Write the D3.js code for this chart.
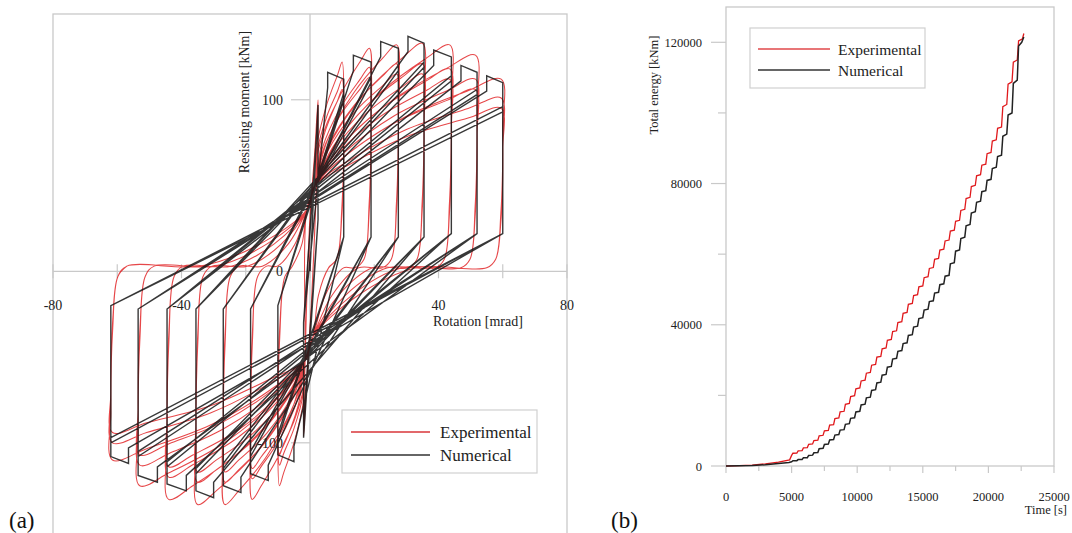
<!DOCTYPE html>
<html>
<head>
<meta charset="utf-8">
<script src="https://cdn.jsdelivr.net/npm/d3@7"></script>
<style>
body { margin: 0; background: #fff; }
svg { display: block; font-family: "Liberation Serif", "Times New Roman", serif; }
</style>
</head>
<body>
<svg id="chart" width="1072" height="533"></svg>
<script>
// ---------- panel (a): moment-rotation loops, one entry per amplitude level ----------
var ampPos = [2.5, 10.5, 19, 27.5, 35.5, 44, 52, 60];
var ampNeg = [-2, -10, -18.5, -27, -35.5, -44.5, -53.5, -62];

var expPeakPos1 = [100, 122, 130, 132, 133, 132, 126, 112];
var expPeakPos2 = [92, 112, 119, 121, 121, 118, 112, 101];
var expPeakNeg1 = [-96, -125, -133, -136, -136, -133, -125, -110];
var expPeakNeg2 = [-90, -113, -121, -123, -123, -120, -113, -100];

var numPeakPos1 = [97, 112, 122, 130, 133, 125, 116, 110];
var numPeakPos2 = [92, 104, 113, 120, 122, 114, 106, 96];
var numPeakNeg1 = [-97, -107, -118, -125, -128, -124, -119, -108];
var numPeakNeg2 = [-90, -98, -108, -115, -118, -114, -108, -100];
var numUnloadPos = [30, 20, 20, 20, 20, 22, 22, 22];
var numUnloadNeg = [-30, -20, -22, -22, -22, -22, -22, -20];

var rotTicks = [-80, -60, -40, -20, 0, 20, 40, 60, 80];
var rotLabels = [-80, -40, 40, 80];
var momLabels = [100, 0, -100];

// ---------- panel (b): cumulative energy [time s, energy kNm] ----------
var expEnergy = [
  [0,0],[1000,80],[2000,250],[3000,600],[4000,1100],[4850,1750],
  [5000,3000],[5100,3612],[5400,3680],[5500,4292],[5800,4360],[5900,5134],
  [6200,5220],[6300,6156],[6600,6260],[6700,7196],[7000,7300],[7100,8560],
  [7400,8700],[7500,9960],[7800,10100],[7900,11576],[8200,11740],[8300,13432],
  [8600,13620],[8700,15312],[9000,15500],[9100,17480],[9400,17700],[9500,19680],
  [9800,19900],[9900,21880],[10200,22100],[10300,24080],[10600,24300],[10700,26280],
  [11000,26500],[11100,28552],[11400,28780],[11500,30832],[11800,31060],[11900,33184],
  [12200,33420],[12300,35616],[12600,35860],[12700,38056],[13000,38300],[13100,40640],
  [13400,40900],[13500,43240],[13800,43500],[13900,45786],[14200,46040],[14300,48272],
  [14600,48520],[14700,50752],[15000,51000],[15100,53340],[15400,53600],[15500,55940],
  [15800,56200],[15900,58540],[16200,58800],[16300,61140],[16600,61400],[16700,63740],
  [17000,64000],[17100,66520],[17400,66800],[17500,69320],[17800,69600],[17900,72390],
  [18200,72700],[18300,75760],[18600,76100],[18700,79160],[19000,79500],[19100,82200],
  [19400,82500],[19500,85200],[19800,85500],[19900,88470],[20200,88800],[20300,92040],
  [20600,92400],[20700,95640],[21000,96000],[21100,101760],[21400,102400],[21500,108160],
  [21800,108800],[21900,114380],[22200,115000],[22300,120400],[22600,121000],[22700,122500]
];
var numEnergy = [
  [0,0],[1000,50],[2000,150],[3000,350],[4000,700],[4800,1000],
  [5000,1200],[5100,1488],[5400,1520],[5500,1808],[5800,1840],[5900,2308],
  [6200,2360],[6300,3008],[6600,3080],[6700,3728],[7000,3800],[7100,4880],
  [7400,5000],[7500,6080],[7800,6200],[7900,7370],[8200,7500],[8300,8760],
  [8600,8900],[8700,10160],[9000,10300],[9100,11812],[9400,11980],[9500,13492],
  [9800,13660],[9900,15316],[10200,15500],[10300,17300],[10600,17500],[10700,19300],
  [11000,19500],[11100,21408],[11400,21620],[11500,23528],[11800,23740],[11900,25720],
  [12200,25940],[12300,27992],[12600,28220],[12700,30272],[13000,30500],[13100,32480],
  [13400,32700],[13500,34680],[13800,34900],[13900,36970],[14200,37200],[14300,39360],
  [14600,39600],[14700,41760],[15000,42000],[15100,44160],[15400,44400],[15500,46560],
  [15800,46800],[15900,48960],[16200,49200],[16300,51360],[16600,51600],[16700,53760],
  [17000,54000],[17100,57240],[17400,57600],[17500,60840],[17800,61200],[17900,64440],
  [18200,64800],[18300,68040],[18600,68400],[18700,71640],[19000,72000],[19100,74700],
  [19400,75000],[19500,77700],[19800,78000],[19900,80880],[20200,81200],[20300,84260],
  [20600,84600],[20700,87660],[21000,88000],[21100,93400],[21400,94000],[21500,99400],
  [21800,100000],[21900,108370],[22200,109300],[22300,118930],[22540,120000],[22700,121500]
];
var energyTicks = [0, 40000, 80000, 120000];
var energyMinor = [20000, 60000, 100000];
var timeTicks = [0, 5000, 10000, 15000, 20000, 25000];
var timeMinor = [2500, 7500, 12500, 17500, 22500];

var legendNames = ["Experimental", "Numerical"];
var redColor = "#e0191c", blackColor = "#151515", gridColor = "#c9c9c9";

var svg = d3.select("#chart");

// ================= panel (a) =================
var xA = d3.scaleLinear().domain([-80, 80]).range([53, 567]);
var yA = d3.scaleLinear().domain([-152, 150]).range([532, 14]);

var gA = svg.append("g");

gA.append("rect")
    .attr("x", xA(-80)).attr("y", yA(150))
    .attr("width", xA(80) - xA(-80)).attr("height", 540)
    .attr("fill", "none").attr("stroke", gridColor).attr("stroke-width", 1.3);

gA.append("line")
    .attr("x1", xA(-80)).attr("x2", xA(80))
    .attr("y1", yA(0)).attr("y2", yA(0))
    .attr("stroke", gridColor).attr("stroke-width", 1.3);
gA.append("line")
    .attr("x1", xA(0)).attr("x2", xA(0))
    .attr("y1", yA(150)).attr("y2", 540)
    .attr("stroke", gridColor).attr("stroke-width", 1.3);

gA.selectAll(".xtick").data(rotTicks).enter().append("line")
    .attr("x1", function(d) { return xA(d); }).attr("x2", function(d) { return xA(d); })
    .attr("y1", yA(0) - 7).attr("y2", yA(0) + 7)
    .attr("stroke", gridColor).attr("stroke-width", 1.2);
gA.selectAll(".ytick").data([100, -100]).enter().append("line")
    .attr("x1", xA(0) - 19).attr("x2", xA(0))
    .attr("y1", function(d) { return yA(d); }).attr("y2", function(d) { return yA(d); })
    .attr("stroke", gridColor).attr("stroke-width", 1.2);

// experimental loop: plateau near zero, pinch near the origin, rounded peak, steep unloading
function expPosHalf(anPrev, ap, pp) {
    var p = [];
    if (anPrev < -6) p.push([anPrev * 0.55, 3], [anPrev * 0.25, 16]);
    p.push([-1, 36], [1.5, 50]);
    if (ap > 8) {
        p.push([ap * 0.2, 40 + 0.4 * (pp - 40)], [ap * 0.5, 40 + 0.7 * (pp - 40)], [ap * 0.82, 0.94 * pp]);
    } else {
        p.push([ap * 0.7, 0.85 * pp]);
    }
    p.push([ap - 0.5, pp], [ap, 0.75 * pp], [ap - 0.6, 0.3 * pp], [ap - 2.2, 7]);
    if (ap > 12) p.push([ap - 5, 2]);
    return p;
}
function expNegHalf(apPrev, an, pn) {
    var p = [];
    if (apPrev > 6) p.push([apPrev * 0.55, 2], [apPrev * 0.25, -14]);
    p.push([1, -38], [-1.5, -52]);
    if (an < -8) {
        p.push([an * 0.2, -42 + 0.4 * (pn + 42)], [an * 0.5, -42 + 0.7 * (pn + 42)], [an * 0.82, 0.94 * pn]);
    } else {
        p.push([an * 0.7, 0.85 * pn]);
    }
    p.push([an + 0.5, pn], [an, 0.75 * pn], [an + 0.6, 0.3 * pn], [an + 2.2, -3]);
    if (an < -12) p.push([an + 5, 3]);
    return p;
}

var expPts = [[0, 0]];
for (var c = 0; c < 3; c++) {
    expPts.push([-0.3, 20], [1.5, 70], [ampPos[0], c ? expPeakPos2[0] : expPeakPos1[0]], [2, 50],
                [0.4, -20], [-1.2, -70], [ampNeg[0], c ? expPeakNeg2[0] : expPeakNeg1[0]], [-1.5, -50]);
}
var lastNeg = ampNeg[0], lastPos = ampPos[0];
for (var i = 1; i < ampPos.length; i++) {
    for (var c = 0; c < 3; c++) {
        var pp = c === 0 ? expPeakPos1[i] : expPeakPos2[i] - (c - 1) * 6;
        var pn = c === 0 ? expPeakNeg1[i] : expPeakNeg2[i] + (c - 1) * 6;
        expPts = expPts.concat(expPosHalf(lastNeg, ampPos[i], pp));
        lastPos = ampPos[i];
        expPts = expPts.concat(expNegHalf(lastPos, ampNeg[i], pn));
        lastNeg = ampNeg[i];
    }
}

// numerical loop: straight branches, vertical unloading, notch when a new amplitude is reached
var numPts = [[0, 0]];
for (var i = 0; i < ampPos.length; i++) {
    for (var c = 0; c < 3; c++) {
        var pp = c === 0 ? numPeakPos1[i] : numPeakPos2[i] - (c - 1) * 3;
        var pn = c === 0 ? numPeakNeg1[i] : numPeakNeg2[i] + (c - 1) * 3;
        if (c === 0 && i > 0) {
            var xp = ampPos[i - 1] + 3;
            numPts.push([xp, pp - 5], [xp, pp + 4]);
        }
        numPts.push([ampPos[i], pp], [ampPos[i], numUnloadPos[i]]);
        if (c === 0 && i > 0) {
            var xn = ampNeg[i - 1] - 3;
            numPts.push([xn, pn + 5], [xn, pn - 4]);
        }
        numPts.push([ampNeg[i], pn], [ampNeg[i], numUnloadNeg[i]]);
    }
}

var smoothLine = d3.line()
    .x(function(d) { return xA(d[0]); })
    .y(function(d) { return yA(d[1]); })
    .curve(d3.curveCatmullRom.alpha(0.5));
var straightLine = d3.line()
    .x(function(d) { return xA(d[0]); })
    .y(function(d) { return yA(d[1]); });

gA.append("path").datum(expPts)
    .attr("d", smoothLine)
    .attr("fill", "none").attr("stroke", redColor)
    .attr("stroke-width", 1.05).attr("stroke-opacity", 0.8);
gA.append("path").datum(numPts)
    .attr("d", straightLine)
    .attr("fill", "none").attr("stroke", blackColor)
    .attr("stroke-width", 1.4).attr("stroke-opacity", 0.85)
    .attr("stroke-linejoin", "miter");

// labels
gA.selectAll(".xlab").data(rotLabels).enter().append("text")
    .attr("x", function(d) { return xA(d); })
    .attr("y", yA(0) + 39)
    .attr("text-anchor", "middle")
    .style("font-size", "14px").attr("fill", "#222")
    .text(function(d) { return d; });
gA.selectAll(".ylab").data(momLabels).enter().append("text")
    .attr("x", 283)
    .attr("y", function(d) { return yA(d) + 5; })
    .attr("text-anchor", "end")
    .style("font-size", "14px").attr("fill", "#222")
    .text(function(d) { return d; });

gA.append("text")
    .attr("x", 433).attr("y", 326)
    .style("font-size", "14px").attr("fill", "#222")
    .text("Rotation [mrad]");
gA.append("text")
    .attr("transform", "translate(249,102) rotate(-90)")
    .attr("text-anchor", "middle")
    .style("font-size", "14px").attr("fill", "#222")
    .text("Resisting moment [kNm]");

var legA = gA.append("g");
legA.append("rect")
    .attr("x", 342).attr("y", 410).attr("width", 195).attr("height", 63)
    .attr("fill", "#fff").attr("stroke", "#d0d0d0").attr("stroke-width", 1.2);
legA.selectAll(".ll").data(legendNames).enter().append("line")
    .attr("x1", 351).attr("x2", 430)
    .attr("y1", function(d, i) { return 432 + i * 23; })
    .attr("y2", function(d, i) { return 432 + i * 23; })
    .attr("stroke", function(d, i) { return i ? "#333" : "#d9363a"; })
    .attr("stroke-width", 1.4);
legA.selectAll(".lt").data(legendNames).enter().append("text")
    .attr("x", 440)
    .attr("y", function(d, i) { return 438 + i * 23; })
    .style("font-size", "17px").attr("fill", "#222")
    .text(function(d) { return d; });

svg.append("text")
    .attr("x", 9).attr("y", 528)
    .style("font-size", "23px").attr("fill", "#111")
    .text("(a)");

// ================= panel (b) =================
var xB = d3.scaleLinear().domain([0, 25000]).range([726, 1054]);
var yB = d3.scaleLinear().domain([0, 130000]).range([466, 7]);
var gB = svg.append("g");

gB.append("rect")
    .attr("x", xB(0)).attr("y", yB(130000))
    .attr("width", xB(25000) - xB(0)).attr("height", yB(0) - yB(130000))
    .attr("fill", "none").attr("stroke", gridColor).attr("stroke-width", 1.3);

gB.selectAll(".ymaj").data(energyTicks).enter().append("line")
    .attr("x1", xB(0) - 15).attr("x2", xB(0))
    .attr("y1", function(d) { return yB(d); }).attr("y2", function(d) { return yB(d); })
    .attr("stroke", gridColor).attr("stroke-width", 1.2);
gB.selectAll(".ymin").data(energyMinor).enter().append("line")
    .attr("x1", xB(0) - 8).attr("x2", xB(0))
    .attr("y1", function(d) { return yB(d); }).attr("y2", function(d) { return yB(d); })
    .attr("stroke", gridColor).attr("stroke-width", 1.2);
gB.selectAll(".xmaj").data(timeTicks).enter().append("line")
    .attr("x1", function(d) { return xB(d); }).attr("x2", function(d) { return xB(d); })
    .attr("y1", yB(0)).attr("y2", yB(0) + 7)
    .attr("stroke", gridColor).attr("stroke-width", 1.2);
gB.selectAll(".xmin").data(timeMinor).enter().append("line")
    .attr("x1", function(d) { return xB(d); }).attr("x2", function(d) { return xB(d); })
    .attr("y1", yB(0)).attr("y2", yB(0) + 5)
    .attr("stroke", gridColor).attr("stroke-width", 1.2);

gB.selectAll(".ylab").data(energyTicks).enter().append("text")
    .attr("x", 702)
    .attr("y", function(d) { return yB(d) + 4.5; })
    .attr("text-anchor", "end")
    .style("font-size", "12.5px").attr("fill", "#222")
    .text(function(d) { return d; });
gB.selectAll(".xlab").data(timeTicks).enter().append("text")
    .attr("x", function(d) { return xB(d); })
    .attr("y", 501)
    .attr("text-anchor", "middle")
    .style("font-size", "12.5px").attr("fill", "#222")
    .text(function(d) { return d; });

gB.append("text")
    .attr("x", 1067).attr("y", 514)
    .attr("text-anchor", "end")
    .style("font-size", "12.5px").attr("fill", "#222")
    .text("Time [s]");
gB.append("text")
    .attr("transform", "translate(658,85) rotate(-90)")
    .attr("text-anchor", "middle")
    .style("font-size", "12.5px").attr("fill", "#222")
    .text("Total energy [kNm]");

var lineB = d3.line()
    .x(function(d) { return xB(d[0]); })
    .y(function(d) { return yB(d[1]); });
gB.append("path").datum(expEnergy)
    .attr("d", lineB)
    .attr("fill", "none").attr("stroke", redColor).attr("stroke-width", 1.3);
gB.append("path").datum(numEnergy)
    .attr("d", lineB)
    .attr("fill", "none").attr("stroke", "#222").attr("stroke-width", 1.5);

var legB = gB.append("g");
legB.append("rect")
    .attr("x", 750).attr("y", 28).attr("width", 175).attr("height", 60)
    .attr("fill", "#fff").attr("stroke", "#d0d0d0").attr("stroke-width", 1.2);
legB.selectAll(".ll").data(legendNames).enter().append("line")
    .attr("x1", 758).attr("x2", 830)
    .attr("y1", function(d, i) { return 49 + i * 21; })
    .attr("y2", function(d, i) { return 49 + i * 21; })
    .attr("stroke", function(d, i) { return i ? "#333" : "#e0474a"; })
    .attr("stroke-width", 1.3);
legB.selectAll(".lt").data(legendNames).enter().append("text")
    .attr("x", 838)
    .attr("y", function(d, i) { return 55 + i * 21; })
    .style("font-size", "15.5px").attr("fill", "#222")
    .text(function(d) { return d; });

svg.append("text")
    .attr("x", 611).attr("y", 528)
    .style("font-size", "23px").attr("fill", "#111")
    .text("(b)");
</script>
</body>
</html>
